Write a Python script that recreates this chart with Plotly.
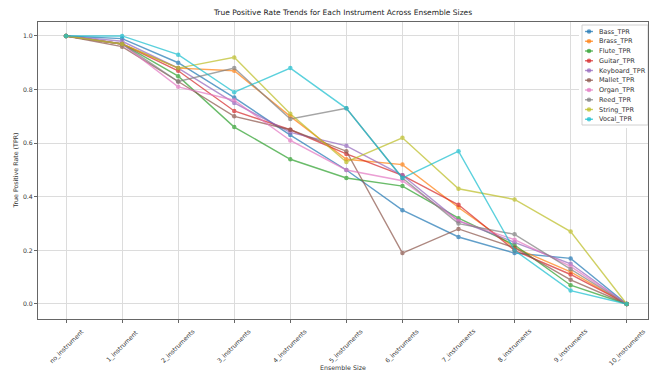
import plotly.graph_objects as go

categories = ["no_instrument", "1_instrument", "2_instruments", "3_instruments", "4_instruments",
              "5_instruments", "6_instruments", "7_instruments", "8_instruments", "9_instruments",
              "10_instruments"]

bass_tpr     = [1.00, 0.99, 0.90, 0.77, 0.63, 0.50, 0.35, 0.25, 0.19, 0.17, 0.00]
brass_tpr    = [1.00, 0.97, 0.88, 0.87, 0.70, 0.54, 0.52, 0.36, 0.21, 0.12, 0.00]
flute_tpr    = [1.00, 0.97, 0.85, 0.66, 0.54, 0.47, 0.44, 0.32, 0.22, 0.07, 0.00]
guitar_tpr   = [1.00, 0.97, 0.87, 0.72, 0.65, 0.56, 0.48, 0.37, 0.20, 0.11, 0.00]
keyboard_tpr = [1.00, 0.98, 0.88, 0.75, 0.64, 0.59, 0.48, 0.31, 0.23, 0.15, 0.00]
mallet_tpr   = [1.00, 0.96, 0.83, 0.70, 0.65, 0.57, 0.19, 0.28, 0.21, 0.09, 0.00]
organ_tpr    = [1.00, 0.97, 0.81, 0.76, 0.61, 0.50, 0.46, 0.31, 0.24, 0.14, 0.00]
reed_tpr     = [1.00, 0.97, 0.83, 0.88, 0.69, 0.73, 0.47, 0.30, 0.26, 0.13, 0.00]
string_tpr   = [1.00, 0.97, 0.88, 0.92, 0.71, 0.53, 0.62, 0.43, 0.39, 0.27, 0.00]
vocal_tpr    = [1.00, 1.00, 0.93, 0.79, 0.88, 0.73, 0.47, 0.57, 0.20, 0.05, 0.00]

series_names = ["Bass_TPR", "Brass_TPR", "Flute_TPR", "Guitar_TPR", "Keyboard_TPR",
                "Mallet_TPR", "Organ_TPR", "Reed_TPR", "String_TPR", "Vocal_TPR"]
series_values = [bass_tpr, brass_tpr, flute_tpr, guitar_tpr, keyboard_tpr,
                 mallet_tpr, organ_tpr, reed_tpr, string_tpr, vocal_tpr]
colors = ["#1f77b4", "#ff7f0e", "#2ca02c", "#d62728", "#9467bd",
          "#8c564b", "#e377c2", "#7f7f7f", "#bcbd22", "#17becf"]

y_ticks = [0.0, 0.2, 0.4, 0.6, 0.8, 1.0]

W, H = 655, 373
L, R, T, B = 38, 648, 22, 319
x_idx = list(range(len(categories)))
TXT = "#333"

fig = go.Figure()
for name, vals, c in zip(series_names, series_values, colors):
    fig.add_trace(go.Scatter(
        x=x_idx, y=vals, mode="lines+markers", name=name,
        line=dict(color=c, width=1.4), marker=dict(color=c, size=4.5),
        opacity=0.7, showlegend=False))

# x tick labels centred under ticks, rotated 45 deg (matplotlib style)
for i, lab in zip(x_idx, categories):
    fig.add_annotation(x=i, xref="x", y=-(6.0 / (B - T)), yref="paper", text=lab,
                       showarrow=False, textangle=-45, xanchor="center", yanchor="top",
                       font=dict(family="DejaVu Sans", size=6.2, color=TXT))
# axis titles
fig.add_annotation(x=0.5, xref="paper", y=-(48.0 / (B - T)), yref="paper", text="Ensemble Size",
                   showarrow=False, xanchor="center", yanchor="middle",
                   font=dict(family="DejaVu Sans", size=6.3, color=TXT))
fig.add_annotation(x=-(23.0 / (R - L)), xref="paper", y=0.5, yref="paper",
                   text="True Positive Rate (TPR)", showarrow=False, textangle=-90,
                   xanchor="center", yanchor="middle",
                   font=dict(family="DejaVu Sans", size=6.3, color=TXT))

# custom compact legend (matplotlib-like) on its own small axes
lg_x0, lg_x1, lg_y0, lg_y1 = 582, 648, 25, 125
fig.add_shape(type="rect", xref="x2", yref="y2", x0=lg_x0, x1=lg_x1, y0=lg_y0, y1=lg_y1,
              line=dict(color="#d0d0d0", width=1), fillcolor="rgba(255,255,255,0.85)", layer="below")
for i, (name, c) in enumerate(zip(series_names, colors)):
    yy = 31.5 + 9.75 * i
    fig.add_trace(go.Scatter(x=[585, 593], y=[yy, yy], mode="lines", xaxis="x2", yaxis="y2",
                             line=dict(color=c, width=1.4), opacity=0.7, showlegend=False,
                             hoverinfo="skip"))
    fig.add_trace(go.Scatter(x=[589], y=[yy], mode="markers", xaxis="x2", yaxis="y2",
                             marker=dict(color=c, size=4.5), opacity=0.7, showlegend=False,
                             hoverinfo="skip"))
    fig.add_annotation(x=597, y=yy, xref="x2", yref="y2", text=name, showarrow=False,
                       xanchor="left", yanchor="middle",
                       font=dict(family="DejaVu Sans", size=6.5, color=TXT))

fig.update_layout(
    width=W, height=H,
    margin=dict(l=L, r=W - R, t=T, b=H - B, pad=0),
    paper_bgcolor="white", plot_bgcolor="white",
    font=dict(family="DejaVu Sans", size=6, color=TXT),
    title=dict(text="True Positive Rate Trends for Each Instrument Across Ensemble Sizes",
               x=(L + R) / 2 / W, xanchor="center", y=1 - 12 / H, yanchor="middle",
               font=dict(family="DejaVu Sans", size=7.5, color="#222"), automargin=False),
    xaxis=dict(
        domain=[0, 1], range=[-0.5, 10.38], automargin=False,
        tickmode="array", tickvals=x_idx, showticklabels=False,
        showgrid=True, gridcolor="#dcdcdc", gridwidth=1,
        showline=True, linecolor="#666", linewidth=1, mirror=True,
        ticks="outside", ticklen=3, tickcolor="#666", zeroline=False),
    yaxis=dict(
        domain=[0, 1], range=[-0.056, 1.052], automargin=False,
        tickmode="array", tickvals=y_ticks, ticktext=[f"{v:.1f}" for v in y_ticks],
        showgrid=True, gridcolor="#dcdcdc", gridwidth=1,
        showline=True, linecolor="#666", linewidth=1, mirror=True,
        ticks="outside", ticklen=3, tickcolor="#666", zeroline=False,
        tickfont=dict(size=6.2, color=TXT)),
    xaxis2=dict(domain=[(lg_x0 - 3 - L) / (R - L), 1], range=[lg_x0 - 3, R],
                visible=False, fixedrange=True, anchor="y2", automargin=False),
    yaxis2=dict(domain=[(B - 128) / (B - T), 1], range=[128, T],
                visible=False, fixedrange=True, anchor="x2", automargin=False),
)

fig.write_html("out.html", config={"displayModeBar": False},
               post_script="document.body.style.margin='0';document.body.style.overflow='hidden';")
